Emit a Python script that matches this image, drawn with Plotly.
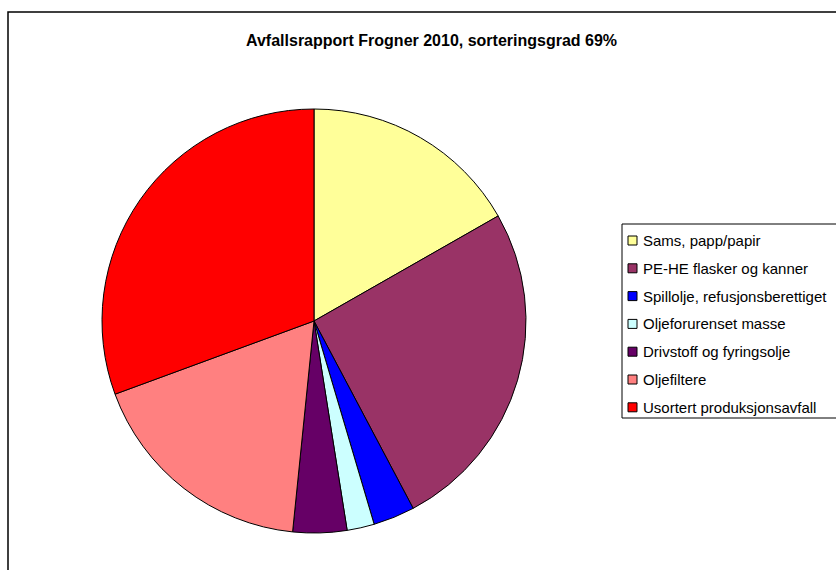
import plotly.graph_objects as go

title = "Avfallsrapport Frogner 2010, sorteringsgrad 69%"
labels = [
    "Sams, papp/papir",
    "PE-HE flasker og kanner",
    "Spillolje, refusjonsberettiget",
    "Oljeforurenset masse",
    "Drivstoff og fyringsolje",
    "Oljefiltere",
    "Usortert produksjonsavfall",
]
values = [16.75, 25.5, 3.17, 2.08, 4.11, 17.78, 30.61]
colors = ["#FFFF99", "#993366", "#0000FF", "#CCFFFF", "#660066", "#FF8080", "#FF0000"]

W, H = 836, 570
FONT = "Arial, Liberation Sans, sans-serif"

def px(x):
    return x / W

def py(y):
    return 1 - y / H

cx, cy, r = 314, 321, 212

fig = go.Figure(go.Pie(
    labels=labels, values=values, sort=False, direction="clockwise", rotation=0,
    marker=dict(colors=colors, line=dict(color="black", width=1)),
    textinfo="none", hoverinfo="label+percent", showlegend=False,
    domain=dict(x=[px(cx - r), px(cx + r)], y=[py(cy + r), py(cy - r)]),
))

shapes = [
    # chart area frame
    dict(type="rect", xref="paper", yref="paper", x0=px(8), x1=px(W + 20),
         y0=py(H + 20), y1=py(12), line=dict(color="black", width=1.5), fillcolor="rgba(0,0,0,0)"),
    # legend box
    dict(type="rect", xref="paper", yref="paper", x0=px(622), x1=px(W + 20),
         y0=py(418), y1=py(224), line=dict(color="black", width=1), fillcolor="white"),
]
annotations = [
    dict(text="<b>" + title + "</b>", xref="paper", yref="paper", x=px(431), y=py(40),
         xanchor="center", yanchor="middle", showarrow=False,
         font=dict(family=FONT, size=16, color="black")),
]
row0, step = 240.5, 27.8
for i, (lab, col) in enumerate(zip(labels, colors)):
    yc = row0 + i * step
    shapes.append(dict(type="rect", xref="paper", yref="paper", x0=px(628), x1=px(637),
                       y0=py(yc + 4.5), y1=py(yc - 4.5), line=dict(color="black", width=1),
                       fillcolor=col))
    annotations.append(dict(text=lab, xref="paper", yref="paper", x=px(641), y=py(yc),
                            xanchor="left", yanchor="middle", showarrow=False,
                            font=dict(family=FONT, size=15, color="black")))

fig.update_layout(
    width=W, height=H, margin=dict(l=0, r=0, t=0, b=0),
    paper_bgcolor="white", plot_bgcolor="white",
    shapes=shapes, annotations=annotations, showlegend=False,
    font=dict(family=FONT),
)
fig.write_html("out.html", config={"displayModeBar": False},
               post_script="document.body.style.margin='0';document.body.style.overflow='hidden';")
